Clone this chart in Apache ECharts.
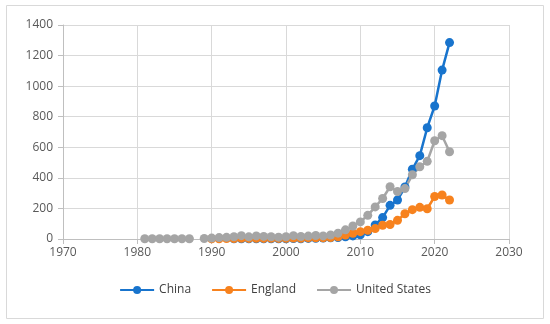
<!DOCTYPE html>
<html>
<head>
<meta charset="utf-8">
<script src="https://cdn.jsdelivr.net/npm/echarts@6/dist/echarts.min.js"></script>
<style>html,body{margin:0;padding:0;background:#fff;}#c{width:550px;height:324px;}</style>
</head>
<body>
<div id="c"></div>
<script>
const xTicks = [1970, 1980, 1990, 2000, 2010, 2020, 2030];
const yTicks = [0, 200, 400, 600, 800, 1000, 1200, 1400];

const chinaYears = [1993,1994,1995,1996,1997,1998,1999,2000,2001,2002,2003,2004,2005,2006,2007,2008,2009,2010,2011,2012,2013,2014,2015,2016,2017,2018,2019,2020,2021,2022];
const chinaValues = [1,1,2,1,2,1,2,2,3,2,4,5,6,8,10,15,20,28,48,92,140,220,255,340,456,545,728,870,1105,1285];

const englandYears = [1990,1991,1992,1993,1994,1995,1996,1997,1998,1999,2000,2001,2002,2003,2004,2005,2006,2007,2008,2009,2010,2011,2012,2013,2014,2015,2016,2017,2018,2019,2020,2021,2022];
const englandValues = [1,2,3,3,5,4,5,4,5,4,5,6,5,7,8,8,10,15,26,37,48,57,68,90,95,122,165,192,207,198,278,288,255];

const usYears = [1981,1982,1983,1984,1985,1986,1987,1988,1989,1990,1991,1992,1993,1994,1995,1996,1997,1998,1999,2000,2001,2002,2003,2004,2005,2006,2007,2008,2009,2010,2011,2012,2013,2014,2015,2016,2017,2018,2019,2020,2021,2022];
const usValues = [2,2,2,2,2,2,2,null,3,6,9,11,15,22,14,20,17,15,12,15,22,16,19,23,20,26,38,60,85,112,155,210,265,342,310,330,420,472,508,643,676,571];

const seriesNames = ['China', 'England', 'United States'];
const colors = ['#1874CD', '#F7821E', '#A5A5A5'];

function pairs(xs, ys) { return xs.map((x, i) => [x, ys[i] === null ? '-' : ys[i]]); }
const seriesData = [pairs(chinaYears, chinaValues), pairs(englandYears, englandValues), pairs(usYears, usValues)];

const chart = echarts.init(document.getElementById('c'));
const font = '"Open Sans", "Liberation Sans", sans-serif';
chart.setOption({
  animation: false,
  color: colors,
  textStyle: { fontFamily: font },
  graphic: [{ type: 'rect', shape: { x: 6.5, y: 5.5, width: 537, height: 313 }, style: { fill: 'none', stroke: '#d9d9d9', lineWidth: 1 }, silent: true }],
  grid: { left: 63, right: 41, top: 25, bottom: 85 },
  legend: {
    bottom: 23, left: 'center', itemGap: 20, itemWidth: 34, itemHeight: 10,
    textStyle: { fontSize: 12, color: '#404040', fontFamily: font },
    data: seriesNames
  },
  xAxis: {
    type: 'value', min: xTicks[0], max: xTicks[xTicks.length - 1], interval: 10,
    axisLine: { show: true, lineStyle: { color: '#bfbfbf' } },
    axisTick: { show: true, length: 5, lineStyle: { color: '#bfbfbf' } },
    axisLabel: { color: '#595959', fontSize: 12, margin: 8, fontFamily: font, formatter: v => String(v) },
    splitLine: { show: true, lineStyle: { color: '#d9d9d9' } }
  },
  yAxis: {
    type: 'value', min: yTicks[0], max: yTicks[yTicks.length - 1], interval: 200,
    axisLine: { show: true, lineStyle: { color: '#bfbfbf' } },
    axisTick: { show: true, length: 5, lineStyle: { color: '#bfbfbf' } },
    axisLabel: { color: '#595959', fontSize: 12, margin: 10, fontFamily: font, formatter: v => String(v) },
    splitLine: { show: true, lineStyle: { color: '#d9d9d9' } }
  },
  series: seriesNames.map((n, i) => ({
    name: n, type: 'line', data: seriesData[i],
    symbol: 'circle', symbolSize: 9, showSymbol: true,
    lineStyle: { width: 2.5, color: colors[i] },
    itemStyle: { color: colors[i] },
    connectNulls: false
  }))
});
</script>
</body>
</html>
